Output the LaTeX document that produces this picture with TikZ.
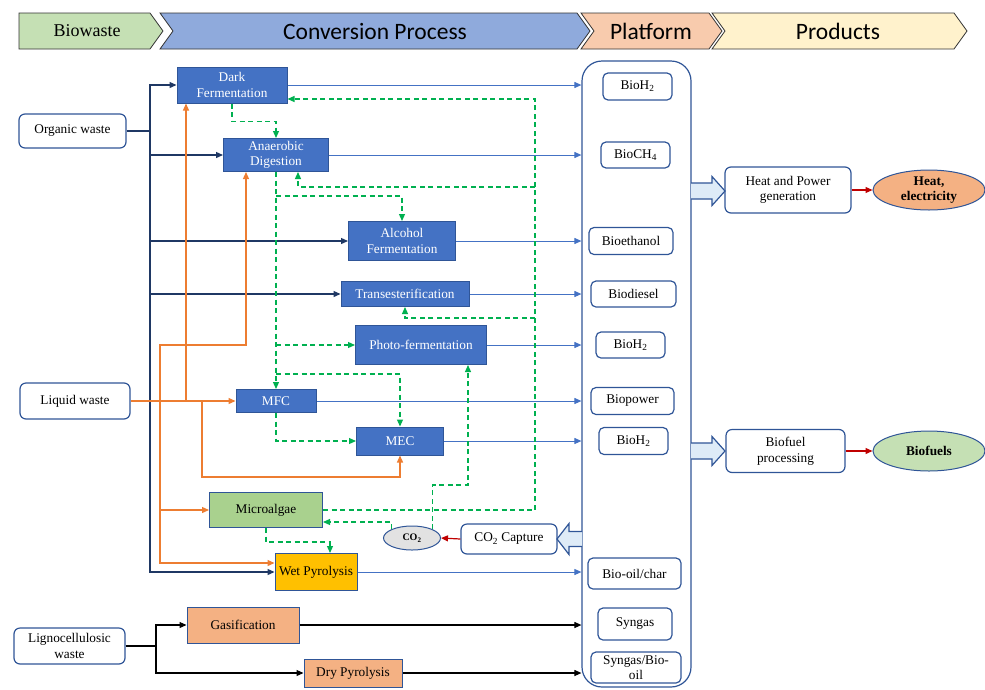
\documentclass[tikz,border=0pt]{standalone}
\usepackage{fontspec}
\setmainfont{Liberation Serif}
\newfontfamily\headfont{Carlito}
\usetikzlibrary{arrows.meta,shapes.geometric,calc}

\definecolor{procblue}{HTML}{4472C4}
\definecolor{edgeblue}{HTML}{2F5597}
\definecolor{navy}{HTML}{1F3864}
\definecolor{feedorange}{HTML}{ED7D31}
\definecolor{recgreen}{HTML}{00B050}
\definecolor{capred}{HTML}{C00000}
\definecolor{algaegreen}{HTML}{A9D18E}
\definecolor{paleorange}{HTML}{F4B183}
\definecolor{wetyellow}{HTML}{FFC000}
\definecolor{palegreen}{HTML}{C5E0B4}
\definecolor{paleblue}{HTML}{8FAADC}
\definecolor{palepeach}{HTML}{F8CBAD}
\definecolor{paleyellow}{HTML}{FFF2CC}
\definecolor{arrowfill}{HTML}{DEEBF7}
\definecolor{gasgray}{HTML}{E2E2E2}

\begin{document}
\begin{tikzpicture}[x=1pt,y=-1pt,>={Triangle[length=7pt,width=6pt]},
                    inner sep=0pt,font=\fontsize{13.3}{15.5}\selectfont]
    \tikzset{
      waste/.style={
        draw=edgeblue,
        rounded corners=6pt,
        line width=1.2pt,
        align=center
      },
      process/.style={
        draw=edgeblue,
        fill=procblue,
        text=white,
        line width=1pt,
        align=center
      },
      feedstock/.style={
        draw=edgeblue,
        line width=1pt,
        align=center
      },
      product/.style={
        draw=edgeblue,
        rounded corners=5pt,
        line width=1.2pt,
        align=center
      },
      outcome/.style={
        ellipse,
        draw=edgeblue,
        line width=1pt,
        align=center,
        font=\fontsize{13.3}{15}\selectfont\bfseries
      },
      chevron/.style={
        draw=black!80,
        line width=0.8pt
      },
      blockarrow/.style={
        draw=edgeblue,
        fill=arrowfill,
        line width=1.2pt
      },
      supply/.style={draw=navy, line width=1.3pt},
      feed/.style={draw=feedorange, line width=1.3pt},
      yield/.style={color=procblue, line width=1pt, ->},
      solid feed/.style={color=black, line width=1.1pt},
      recycle/.style={
        draw=recgreen,
        line width=1.2pt,
        dash pattern=on 5pt off 3.5pt,
        ->
      },
      capture/.style={draw=capred, line width=1.2pt, ->}
    }
    \useasboundingbox (0,0) rectangle (985,689);

    % Header
    \draw [chevron, fill=palegreen]
        (19,13) -- (150,13) -- (163,31) -- (150,49) -- (19,49) -- cycle;
    \draw [chevron, fill=paleblue]
        (160,13) -- (577,13) -- (590,31) -- (577,49) -- (160,49) -- (173,31) -- cycle;
    \draw [chevron, fill=palepeach]
        (581,13) -- (709,13) -- (722,31) -- (709,49) -- (581,49) -- (594,31) -- cycle;
    \draw [chevron, fill=paleyellow]
        (712,13) -- (954,13) -- (967,31) -- (954,49) -- (712,49) -- (725,31) -- cycle;
    \node (hbio)  at (87,31)  {\fontsize{18}{20}\selectfont Biowaste};
    \node (hconv) at (375,31) {\headfont\fontsize{23.5}{26}\selectfont Conversion Process};
    \node (hplat) at (651,31) {\headfont\fontsize{23.5}{26}\selectfont Platform};
    \node (hprod) at (838,31) {\headfont\fontsize{23.5}{26}\selectfont Products};

    % Waste streams
    \node [waste, minimum width=107, minimum height=34] (organic) at (72.5,131) {Organic waste};
    \node [waste, minimum width=110, minimum height=36] (liquid)  at (75,401)   {Liquid waste};
    \node [waste, minimum width=111, minimum height=36] (ligno)   at (69.5,646) {Lignocellulosic\\waste};

    % Conversion processes
    \node [process, minimum width=110, minimum height=36] (dark)    at (232,85)  {Dark\\Fermentation};
    \node [process, minimum width=105, minimum height=33] (anaer)   at (276,155) {Anaerobic\\Digestion};
    \node [process, minimum width=107, minimum height=39] (alcohol) at (402,241) {Alcohol\\Fermentation};
    \node [process, minimum width=128, minimum height=25] (trans)   at (405,294) {Transesterification};
    \node [process, minimum width=131, minimum height=39] (photo)   at (421,345) {Photo-fermentation};
    \node [process, minimum width=80,  minimum height=23] (mfc)     at (276,401) {MFC};
    \node [process, minimum width=87,  minimum height=28] (mec)     at (400,441) {MEC};
    \node [feedstock, fill=algaegreen, minimum width=113, minimum height=35] (algae)   at (266,510) {Microalgae};
    \node [feedstock, fill=wetyellow,  minimum width=82,  minimum height=37] (wetpyro) at (316,572) {Wet Pyrolysis};
    \node [feedstock, fill=paleorange, minimum width=112, minimum height=36] (gasif)   at (243,625) {Gasification};
    \node [feedstock, fill=paleorange, minimum width=98,  minimum height=28] (drypyro) at (353,673) {Dry Pyrolysis};

    % Platform
    \node [draw=edgeblue, line width=1.2pt, rounded corners=20pt,
           minimum width=109, minimum height=626] (plat) at (636.5,374) {};
    \node [product, minimum width=69, minimum height=27] (hyda)    at (637.5,86.5)  {BioH\textsubscript{2}};
    \node [product, minimum width=69, minimum height=26] (methane) at (635.5,155)   {BioCH\textsubscript{4}};
    \node [product, minimum width=84, minimum height=27] (ethanol) at (631,241)     {Bioethanol};
    \node [product, minimum width=85, minimum height=26] (diesel)  at (633.5,294)   {Biodiesel};
    \node [product, minimum width=69, minimum height=26] (hydb)    at (630.5,345)   {BioH\textsubscript{2}};
    \node [product, minimum width=83, minimum height=27] (power)   at (632.5,401)   {Biopower};
    \node [product, minimum width=69, minimum height=27] (hydc)    at (633.5,441)   {BioH\textsubscript{2}};
    \node [product, minimum width=93, minimum height=31] (biooil)  at (634.5,573.5) {Bio-oil/char};
    \node [product, minimum width=74, minimum height=32] (syngas)  at (635,624)     {Syngas};
    \node [product, minimum width=90, minimum height=31] (synoil)  at (636,667.5)   {Syngas/Bio-\\oil};

    % Carbon loop
    \node [waste, minimum width=96, minimum height=30] (capture) at (509,539) {CO\textsubscript{2} Capture};
    \node [outcome, fill=gasgray, minimum width=57, minimum height=24,
           font=\fontsize{10}{12}\selectfont\bfseries] (co2) at (412,538) {CO\textsubscript{2}};

    % Products
    \node [waste, minimum width=126, minimum height=46] (hpgen)    at (788,190)   {Heat and Power\\generation};
    \node [outcome, fill=paleorange, minimum width=112, minimum height=40] (heat) at (929,190) {Heat,\\electricity};
    \node [waste, minimum width=119, minimum height=43] (fuelproc) at (785.5,451) {Biofuel\\processing};
    \node [outcome, fill=palegreen, minimum width=112, minimum height=40] (biofuels) at (929,451) {Biofuels};

    % Block arrows
    \draw [blockarrow] (691,183) -- (712,183) -- (712,176.5) -- (725,191)
        -- (712,205.5) -- (712,199) -- (691,199);
    \draw [blockarrow] (691,443) -- (712,443) -- (712,436.5) -- (725,451)
        -- (712,465.5) -- (712,459) -- (691,459);
    \draw [blockarrow] (582,531.5) -- (569,531.5) -- (569,523.5) -- (557,539)
        -- (569,554.5) -- (569,546.5) -- (582,546.5);

    % Organic waste supply
    \coordinate (orgjoin) at (150,131);
    \draw [supply] (organic.east) -- (orgjoin);
    \draw [supply,->] (orgjoin) |- (dark.west);
    \draw [supply,->] (orgjoin) |- (anaer.west);
    \draw [supply,->] (orgjoin) |- (alcohol.west);
    \draw [supply,->] (orgjoin) |- (trans.west);
    \draw [supply,->] (orgjoin) |- (wetpyro.west);

    % Liquid waste supply
    \coordinate (liqjoin) at (160,401);
    \draw [feed,->] (liquid.east) -- (mfc.west);
    \draw [feed,->] (liqjoin) |- (246,345) -- ($(anaer.south)+(-30,0)$);
    \draw [feed,->] (liqjoin) |- (algae.west);
    \draw [feed,->] (liqjoin) |- ($(wetpyro.west)+(0,-9)$);
    \draw [feed,->] (186,401) -- ($(dark.south)+(-46,0)$);
    \draw [feed,->] (202,401) -- (202,477) -| (mec.south);

    % Lignocellulosic supply
    \coordinate (ligjoin) at (156,646);
    \draw [solid feed] (ligno.east) -- (ligjoin);
    \draw [solid feed,->] (ligjoin) |- (gasif.west);
    \draw [solid feed,->] (ligjoin) |- (drypyro.west);

    % Conversion to platform
    \path [yield]
        (dark.east)    edge (dark.east -| plat.west)
        (anaer.east)   edge (anaer.east -| plat.west)
        (alcohol.east) edge (alcohol.east -| plat.west)
        (trans.east)   edge (trans.east -| plat.west)
        (photo.east)   edge (photo.east -| plat.west)
        (mfc.east)     edge (mfc.east -| plat.west)
        (mec.east)     edge (mec.east -| plat.west)
        (wetpyro.east) edge (wetpyro.east -| plat.west);
    \path [solid feed,->]
        (gasif.east)   edge (gasif.east -| plat.west)
        (drypyro.east) edge (drypyro.east -| plat.west);

    % Residue recycling
    \draw [recycle] (dark.south) -- ++(0,18) -| (anaer.north);
    \draw [recycle] (algae.east) -| (535,99) -- ($(dark.east)+(0,14)$);
    \draw [recycle] (535,187) -| ($(anaer.south)+(22,0)$);
    \draw [recycle] (535,318) -| (trans.south);
    \draw [recycle] (anaer.south) -- (mfc.north);
    \draw [recycle] (276,196) -| (alcohol.north);
    \draw [recycle] (anaer.south |- photo.west) -- (photo.west);
    \draw [recycle] (276,374) -| (mec.north);
    \draw [recycle] (mfc.south) |- (mec.west);
    \draw [recycle] (co2.north east) |- (450,485) -| ($(photo.south)+(47,0)$);
    \draw [recycle] (co2.north west) |- ($(algae.east)+(0,12)$);
    \draw [recycle] (algae.south) -- ++(0,14) -| ($(wetpyro.north)+(14,0)$);

    % Capture and end uses
    \draw [capture] (capture.west) -- (co2.east);
    \draw [capture] (hpgen.east) -- (heat.west);
    \draw [capture] (fuelproc.east) -- (biofuels.west);
\end{tikzpicture}
\end{document}
